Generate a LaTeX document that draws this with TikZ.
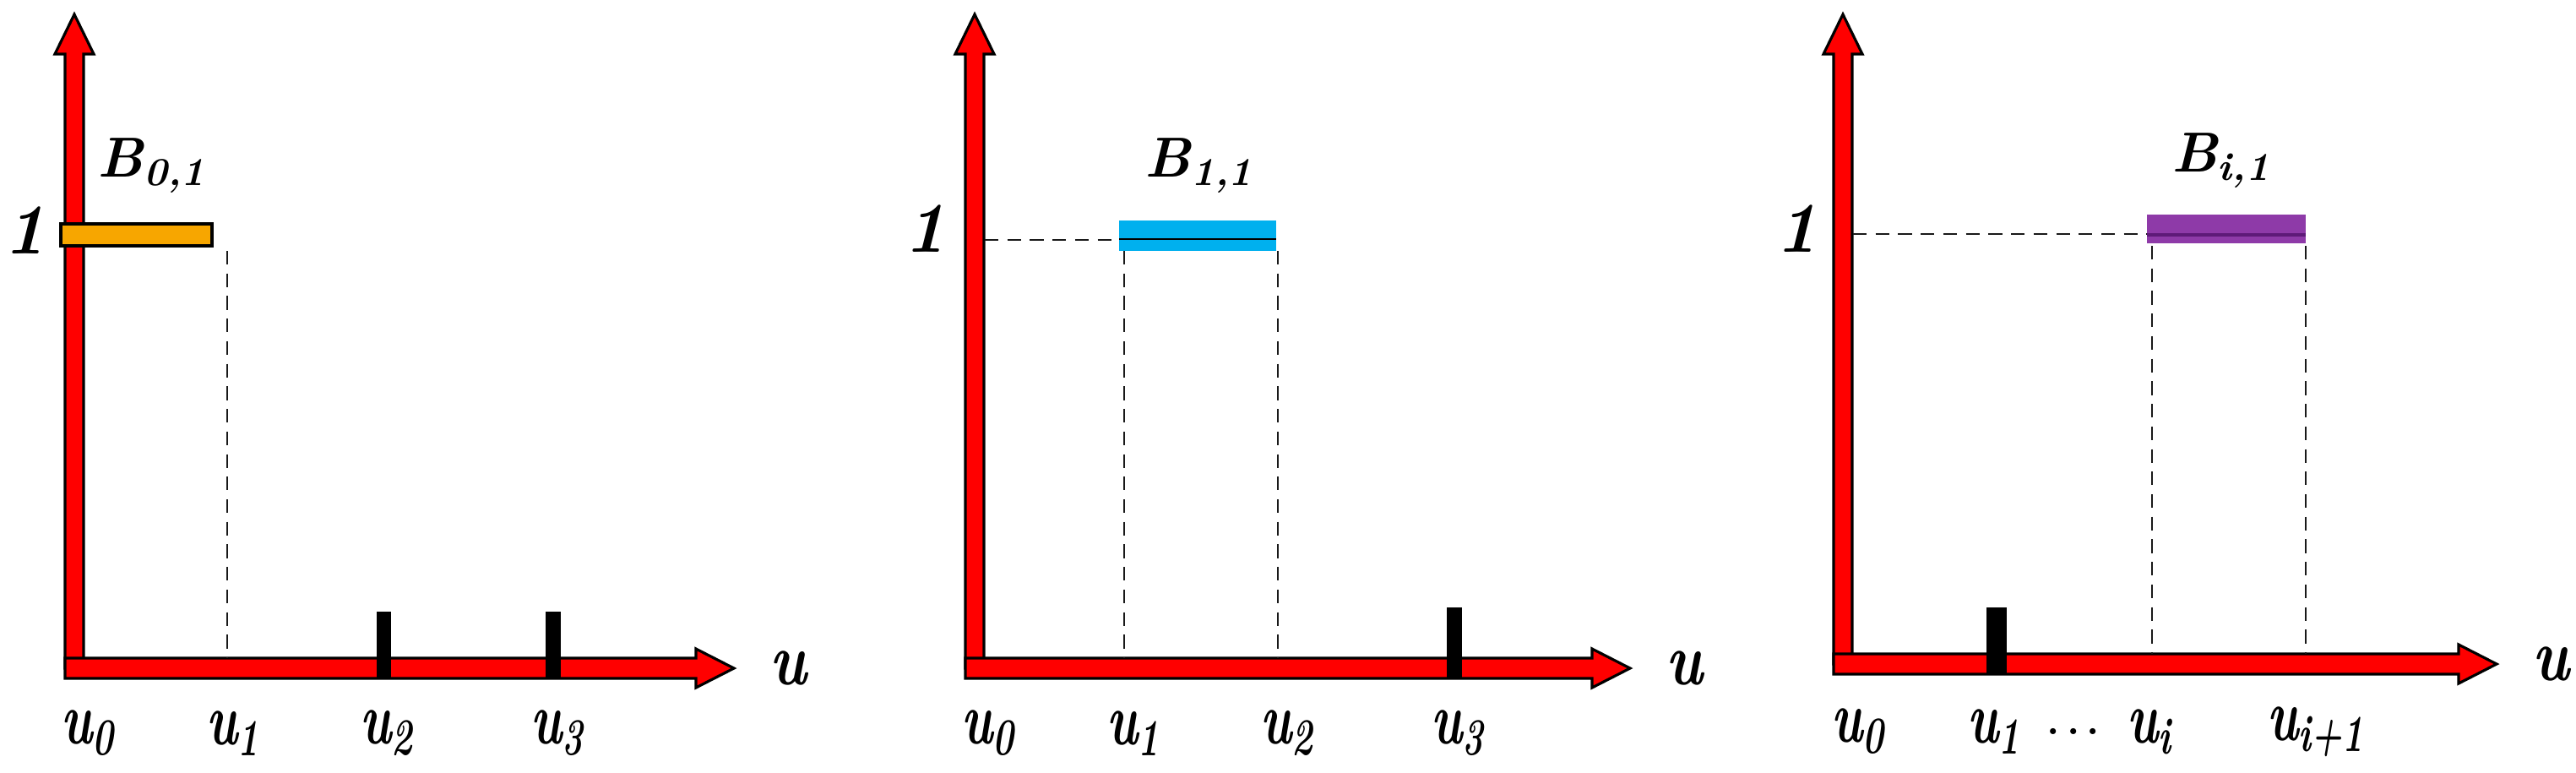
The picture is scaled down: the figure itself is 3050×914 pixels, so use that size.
\documentclass[tikz,border=0pt]{standalone}
\usepackage{graphicx}
\definecolor{barorange}{HTML}{F7A600}
\definecolor{barblue}{HTML}{00B0EE}
\definecolor{barpurple}{HTML}{8E3AA8}
\definecolor{darkpurple}{HTML}{5E1A78}
\newcommand{\knotlabel}[1]{\scalebox{0.68}[1]{u\textsubscript{#1}}}
\tikzset{
	axisarrow/.style={fill=red, draw=black, line width=0.9pt, line join=miter},
	guide/.style={draw=black!90, line width=0.75pt, dash pattern=on 4.6pt off 3pt},
	knot/.style={fill=black},
	knotlbl/.style={font=\fontsize{25}{27}\selectfont\bfseries\itshape, inner sep=0pt},
	funclbl/.style={font=\fontsize{19}{21}\selectfont\bfseries\itshape, inner sep=0pt},
	onelbl/.style={font=\fontsize{24}{26}\selectfont\bfseries\itshape, inner sep=0pt}
}
\begin{document}
\begin{tikzpicture}[x=0.01cm, y=-0.01cm]
			\useasboundingbox (0,0) rectangle (3050,914);
			% axes of the three panels
			\foreach \ax/\ay/\tip in {88/791/869, 1154/791/1930, 2182/786/2956}{
				\draw[axisarrow] ({\ax-11},\ay) -- ({\ax-11},64) -- ({\ax-23},64) -- (\ax,17)
					-- ({\ax+23},64) -- ({\ax+11},64) -- ({\ax+11},\ay) -- cycle;
				\draw[axisarrow] ({\ax-11},{\ay-12}) -- ({\tip-45},{\ay-12}) -- ({\tip-45},{\ay-23})
					-- (\tip,\ay) -- ({\tip-45},{\ay+23}) -- ({\tip-45},{\ay+12}) -- ({\ax-11},{\ay+12}) -- cycle;
				\node[knotlbl] at ({\tip+64},\ay) {\scalebox{0.8}[1]{u}};
			}
			% knots on the axis
			\fill[knot] (446,724) rectangle (463,802);
			\fill[knot] (646,724) rectangle (664,802);
			\fill[knot] (1713,719) rectangle (1731,802);
			\fill[knot] (2352,719) rectangle (2376,797);
			% panel 1: B_{0,1}
			\draw[guide] (269,297) -- (269,779);
			\draw[fill=barorange, draw=black, line width=0.9pt] (72,265) rectangle (251,291);
			\node[onelbl] (one1) at (29,273) {1};
			\node[funclbl] (b01) at (180,196) {B\textsubscript{0,1}};
			\node[knotlbl] (p1u0) at (104,868) {\knotlabel{0}};
			\node[knotlbl] (p1u1) at (276,868) {\knotlabel{1}};
			\node[knotlbl] (p1u2) at (458,868) {\knotlabel{2}};
			\node[knotlbl] (p1u3) at (660,868) {\knotlabel{3}};
			% panel 2: B_{1,1}
			\draw[guide] (1166,284) -- (1325,284);
			\draw[guide] (1331,297) -- (1331,779);
			\draw[guide] (1513,297) -- (1513,779);
			\fill[barblue] (1325,261) rectangle (1511,297);
			\draw[black, line width=0.8pt] (1325,283) -- (1511,283);
			\node[onelbl] (one2) at (1095,271) {1};
			\node[funclbl] (b11) at (1420,196) {B\textsubscript{1,1}};
			\node[knotlbl] (p2u0) at (1170,868) {\knotlabel{0}};
			\node[knotlbl] (p2u1) at (1342,868) {\knotlabel{1}};
			\node[knotlbl] (p2u2) at (1524,868) {\knotlabel{2}};
			\node[knotlbl] (p2u3) at (1726,868) {\knotlabel{3}};
			% panel 3: B_{i,1}
			\draw[guide] (2194,277) -- (2542,277);
			\draw[guide] (2548,291) -- (2548,774);
			\draw[guide] (2730,291) -- (2730,774);
			\fill[barpurple] (2542,254) rectangle (2730,288);
			\fill[darkpurple] (2542,276) rectangle (2730,280);
			\node[onelbl] (one3) at (2127,271) {1};
			\node[funclbl] (bi1) at (2630,190) {B\textsubscript{i,1}};
			\node[knotlbl] (p3u0) at (2200,866) {\knotlabel{0}};
			\node[knotlbl] (p3u1) at (2361,866) {\knotlabel{1}};
			\node[font=\fontsize{14}{16}\selectfont\bfseries, inner sep=0pt] (dots) at (2455,866) {.\,.\,.};
			\node[knotlbl] (p3ui) at (2545,866) {\knotlabel{i}};
			\node[knotlbl] (p3ui1) at (2742,866) {\knotlabel{i+1}};
		\end{tikzpicture}
\end{document}
